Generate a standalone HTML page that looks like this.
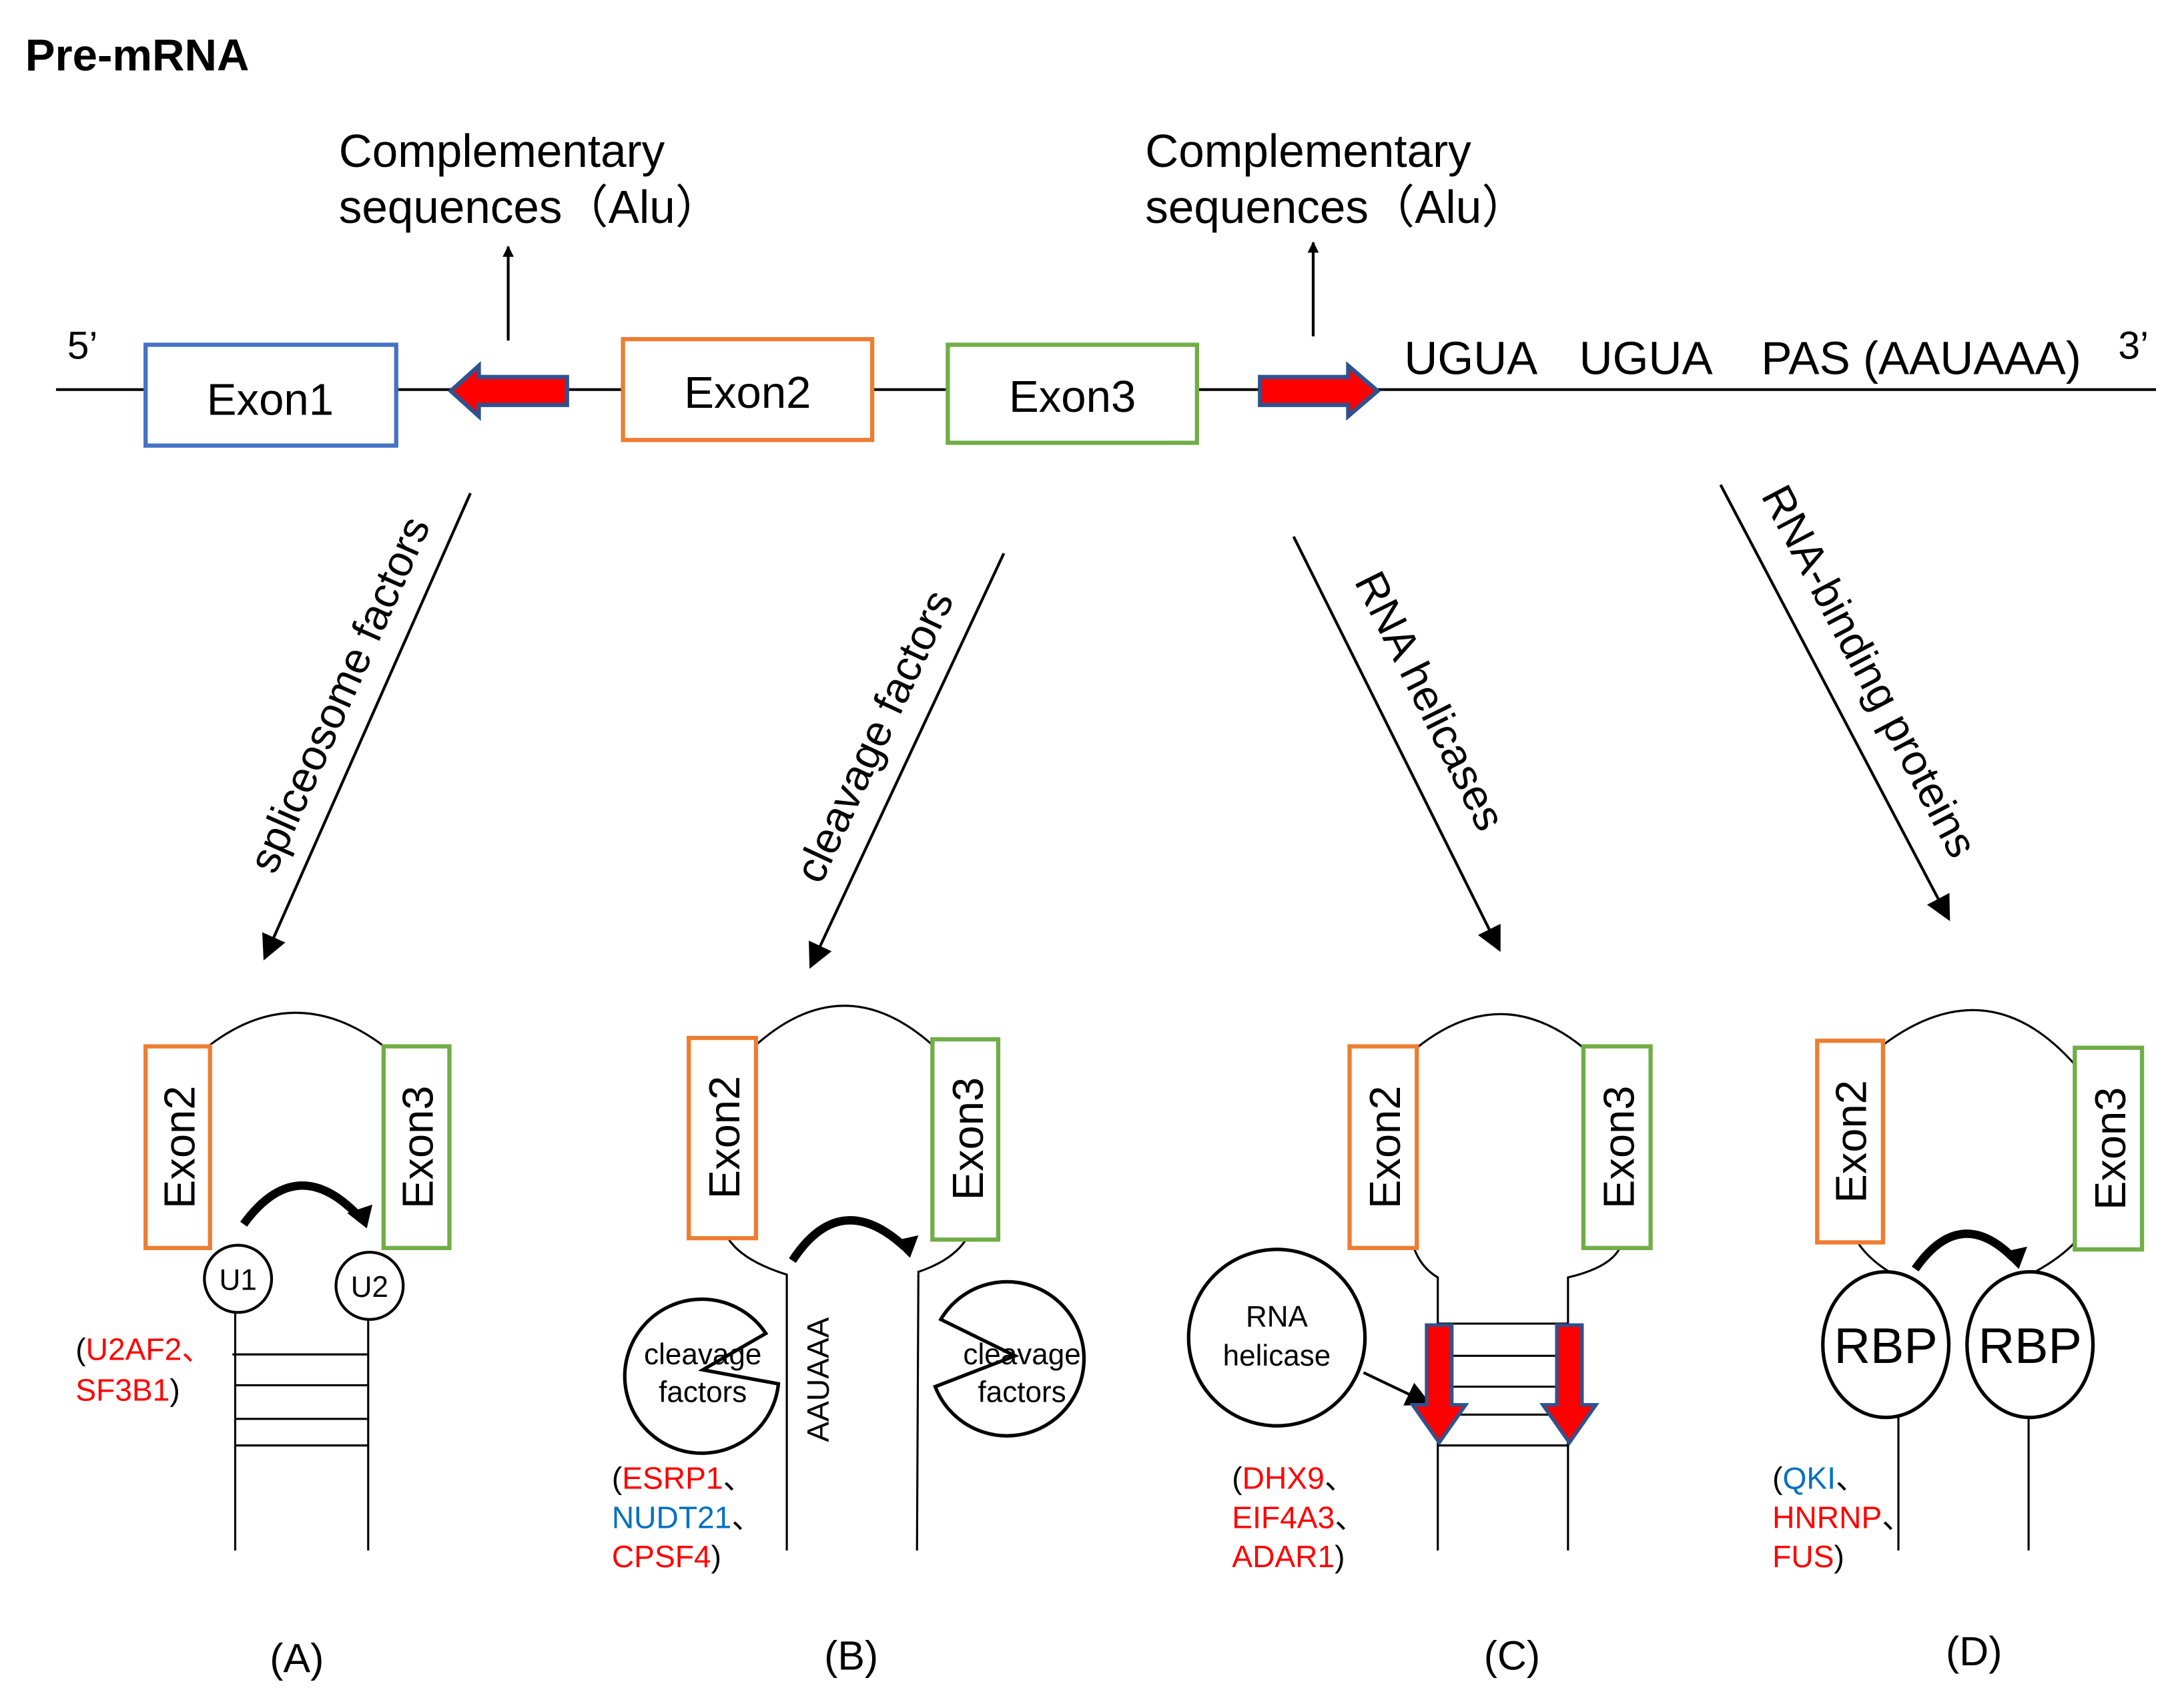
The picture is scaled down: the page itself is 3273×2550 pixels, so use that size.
<!DOCTYPE html>
<html><head><meta charset="utf-8"><style>html,body{margin:0;padding:0;background:#fff}svg{display:block}</style></head>
<body>
<svg width="3273" height="2550" viewBox="0 0 1560 1215" xmlns="http://www.w3.org/2000/svg" font-family="Liberation Sans, Noto Sans CJK SC, sans-serif">
<defs>
<marker id="ah" viewBox="0 0 10 10" refX="9" refY="5" markerWidth="8" markerHeight="8" markerUnits="userSpaceOnUse" orient="auto"><path d="M0,0 L10,5 L0,10 z" fill="#000"/></marker>
<marker id="ah2" viewBox="0 0 10 10" refX="9" refY="5" markerWidth="20" markerHeight="18" markerUnits="userSpaceOnUse" orient="auto"><path d="M0,0 L10,5 L0,10 z" fill="#000"/></marker>
<marker id="ah3" viewBox="0 0 10 10" refX="6" refY="5" markerWidth="9" markerHeight="9" orient="auto"><path d="M0,0 L10,5 L0,10 z" fill="#000"/></marker>
</defs>
<rect width="1560" height="1215" fill="#fff"/>
<text x="18" y="50" font-size="32" font-weight="bold">Pre-mRNA</text>

<line x1="40" y1="278" x2="1540" y2="278" stroke="#000" stroke-width="2"/>
<rect x="104" y="246" width="179" height="72" fill="#fff" stroke="#4472c4" stroke-width="3"/>
<text x="193" y="296" font-size="32" text-anchor="middle">Exon1</text>
<rect x="445" y="242" width="178" height="72" fill="#fff" stroke="#ed7d31" stroke-width="3"/>
<text x="534" y="291" font-size="32" text-anchor="middle">Exon2</text>
<rect x="677" y="246" width="178" height="70" fill="#fff" stroke="#70ad47" stroke-width="3"/>
<text x="766" y="294" font-size="32" text-anchor="middle">Exon3</text>
<text x="48" y="256" font-size="28">5’</text>
<text x="1513" y="256" font-size="28">3’</text>
<text x="1003" y="267" font-size="33">UGUA</text>
<text x="1128" y="267" font-size="33">UGUA</text>
<text x="1258" y="267" font-size="33">PAS (AAUAAA)</text>
<path d="M405,269 L342,269 L342,261 L322,279 L342,297 L342,289 L405,289 z" fill="#f00" stroke="#2f528f" stroke-width="3"/>
<path d="M900,269 L963,269 L963,261 L984,279 L963,297 L963,289 L900,289 z" fill="#f00" stroke="#2f528f" stroke-width="3"/>
<line x1="363" y1="243" x2="363" y2="176" stroke="#000" stroke-width="2" marker-end="url(#ah)"/>
<line x1="938" y1="240" x2="938" y2="173" stroke="#000" stroke-width="2" marker-end="url(#ah)"/>
<text x="242" y="119" font-size="33">Complementary</text>
<text x="242" y="159" font-size="33">sequences（Alu）</text>
<text x="818" y="119" font-size="33">Complementary</text>
<text x="818" y="159" font-size="33">sequences（Alu）</text>

<line x1="336" y1="352" x2="189" y2="684" stroke="#000" stroke-width="2" marker-end="url(#ah2)"/>
<line x1="717" y1="395" x2="579" y2="690" stroke="#000" stroke-width="2" marker-end="url(#ah2)"/>
<line x1="924" y1="383" x2="1071" y2="678" stroke="#000" stroke-width="2" marker-end="url(#ah2)"/>
<line x1="1229" y1="346" x2="1392" y2="656" stroke="#000" stroke-width="2" marker-end="url(#ah2)"/>
<text font-size="31" text-anchor="middle" transform="translate(252,500) rotate(-66)">spliceosome factors</text>
<text font-size="31" text-anchor="middle" transform="translate(634,530) rotate(-65)">cleavage factors</text>
<text font-size="31" text-anchor="middle" transform="translate(1012,505) rotate(63.5)">RNA helicases</text>
<text font-size="31" text-anchor="middle" transform="translate(1326,484) rotate(62.3)">RNA-binding proteins</text>

<g fill="none" stroke="#000" stroke-width="1.5">
<path d="M150,746 Q211,700 273,746"/>
<line x1="168" y1="935" x2="168" y2="1107"/>
<line x1="263" y1="940" x2="263" y2="1107"/>
<line x1="166" y1="967" x2="263" y2="967"/>
<line x1="168" y1="989" x2="263" y2="989"/>
<line x1="168" y1="1013" x2="263" y2="1013"/>
<line x1="168" y1="1032" x2="263" y2="1032"/>
<path d="M540,746 Q603,690 666,746"/>
<path d="M520,884 Q530,900 562,910 L562,1107"/>
<path d="M690,885 Q680,900 656,908 L655,1107"/>
<path d="M1012,748 Q1072,700 1131,748"/>
<path d="M1010,891 Q1015,905 1027,912 L1027,1107"/>
<path d="M1157,891 Q1150,905 1120,912 L1120,1107"/>
<line x1="1027" y1="945" x2="1120" y2="945"/>
<line x1="1027" y1="968" x2="1120" y2="968"/>
<line x1="1027" y1="990" x2="1120" y2="990"/>
<line x1="1027" y1="1010" x2="1120" y2="1010"/>
<line x1="1027" y1="1032" x2="1120" y2="1032"/>
<path d="M1345,746 Q1420,690 1482,760"/>
<path d="M1327,887 Q1335,900 1356,912"/>
<path d="M1482,887 Q1470,900 1446,912"/>
<line x1="1356" y1="1010" x2="1356" y2="1107"/>
<line x1="1449" y1="1010" x2="1449" y2="1107"/>
</g>

<rect x="104" y="747" width="46" height="144" fill="#fff" stroke="#ed7d31" stroke-width="3"/>
<rect x="274" y="747" width="47" height="144" fill="#fff" stroke="#70ad47" stroke-width="3"/>
<text font-size="31" text-anchor="middle" transform="translate(139,819) rotate(-90)">Exon2</text>
<text font-size="31" text-anchor="middle" transform="translate(309,819) rotate(-90)">Exon3</text>
<circle cx="170" cy="913" r="24" fill="#fff" stroke="#000" stroke-width="2"/>
<circle cx="264" cy="918" r="24" fill="#fff" stroke="#000" stroke-width="2"/>
<text x="170" y="921" font-size="21" text-anchor="middle">U1</text>
<text x="264" y="926" font-size="21" text-anchor="middle">U2</text>
<path d="M174,874 Q212,822 256,868" fill="none" stroke="#000" stroke-width="6"/>
<path d="M248,866 L266,860 L262,877 z" fill="#000"/>
<text x="54" y="971" font-size="22"><tspan>(</tspan><tspan fill="#f00">U2AF2、</tspan></text>
<text x="54" y="1000" font-size="22"><tspan fill="#f00">SF3B1</tspan><tspan>)</tspan></text>

<rect x="492" y="741" width="48" height="143" fill="#fff" stroke="#ed7d31" stroke-width="3"/>
<rect x="666" y="742" width="47" height="143" fill="#fff" stroke="#70ad47" stroke-width="3"/>
<text font-size="31" text-anchor="middle" transform="translate(528,812) rotate(-90)">Exon2</text>
<text font-size="31" text-anchor="middle" transform="translate(702,813) rotate(-90)">Exon3</text>
<path d="M566,900 Q600,848 646,890" fill="none" stroke="#000" stroke-width="6"/>
<path d="M638,886 L656,882 L650,898 z" fill="#000"/>
<path d="M502,978 L547,952 A55,55 0 1,0 556,988 z" fill="#fff" stroke="#000" stroke-width="2.5"/>
<path d="M725,968 L672,942 A55,55 0 1,1 668,990 z" fill="#fff" stroke="#000" stroke-width="2.5"/>
<text x="502" y="974" font-size="21" text-anchor="middle">cleavage</text>
<text x="502" y="1001" font-size="21" text-anchor="middle">factors</text>
<text x="730" y="974" font-size="21" text-anchor="middle">cleavage</text>
<text x="730" y="1001" font-size="21" text-anchor="middle">factors</text>
<text font-size="22" text-anchor="middle" transform="translate(592,985) rotate(-90)">AAUAAA</text>
<text x="437" y="1063" font-size="22"><tspan>(</tspan><tspan fill="#f00">ESRP1</tspan><tspan>、</tspan></text>
<text x="437" y="1091" font-size="22"><tspan fill="#0070c0">NUDT21</tspan><tspan>、</tspan></text>
<text x="437" y="1119" font-size="22"><tspan fill="#f00">CPSF4</tspan><tspan>)</tspan></text>

<rect x="964" y="747" width="48" height="144" fill="#fff" stroke="#ed7d31" stroke-width="3"/>
<rect x="1131" y="747" width="48" height="144" fill="#fff" stroke="#70ad47" stroke-width="3"/>
<text font-size="31" text-anchor="middle" transform="translate(1000,819) rotate(-90)">Exon2</text>
<text font-size="31" text-anchor="middle" transform="translate(1167,819) rotate(-90)">Exon3</text>
<ellipse cx="912" cy="955" rx="63" ry="63" fill="#fff" stroke="#000" stroke-width="2.5"/>
<text x="912" y="947" font-size="21" text-anchor="middle">RNA</text>
<text x="912" y="975" font-size="21" text-anchor="middle">helicase</text>
<line x1="974" y1="980" x2="1016" y2="1000" stroke="#000" stroke-width="2" marker-end="url(#ah3)"/>
<path d="M1019,946 L1037,946 L1037,1003 L1047,1003 L1028,1030 L1009,1003 L1019,1003 z" fill="#f00" stroke="#2f528f" stroke-width="2.5"/>
<path d="M1112,946 L1130,946 L1130,1003 L1140,1003 L1121,1030 L1102,1003 L1112,1003 z" fill="#f00" stroke="#2f528f" stroke-width="2.5"/>
<text x="880" y="1063" font-size="22"><tspan>(</tspan><tspan fill="#f00">DHX9</tspan><tspan>、</tspan></text>
<text x="880" y="1091" font-size="22"><tspan fill="#f00">EIF4A3</tspan><tspan>、</tspan></text>
<text x="880" y="1119" font-size="22"><tspan fill="#f00">ADAR1</tspan><tspan>)</tspan></text>

<rect x="1298" y="743" width="47" height="144" fill="#fff" stroke="#ed7d31" stroke-width="3"/>
<rect x="1482" y="748" width="48" height="144" fill="#fff" stroke="#70ad47" stroke-width="3"/>
<text font-size="31" text-anchor="middle" transform="translate(1333,815) rotate(-90)">Exon2</text>
<text font-size="31" text-anchor="middle" transform="translate(1518,820) rotate(-90)">Exon3</text>
<path d="M1368,906 Q1400,860 1438,898" fill="none" stroke="#000" stroke-width="6"/>
<path d="M1430,894 L1448,890 L1442,906 z" fill="#000"/>
<ellipse cx="1347" cy="960" rx="45" ry="52" fill="#fff" stroke="#000" stroke-width="2.5"/>
<ellipse cx="1450" cy="960" rx="45" ry="52" fill="#fff" stroke="#000" stroke-width="2.5"/>
<text x="1347" y="973" font-size="36" text-anchor="middle">RBP</text>
<text x="1450" y="973" font-size="36" text-anchor="middle">RBP</text>
<text x="1266" y="1063" font-size="22"><tspan>(</tspan><tspan fill="#0070c0">QKI</tspan><tspan>、</tspan></text>
<text x="1266" y="1091" font-size="22"><tspan fill="#f00">HNRNP</tspan><tspan>、</tspan></text>
<text x="1266" y="1119" font-size="22"><tspan fill="#f00">FUS</tspan><tspan>)</tspan></text>

<text x="212" y="1194" font-size="29" text-anchor="middle">(A)</text>
<text x="608" y="1192" font-size="29" text-anchor="middle">(B)</text>
<text x="1080" y="1192" font-size="29" text-anchor="middle">(C)</text>
<text x="1410" y="1189" font-size="29" text-anchor="middle">(D)</text>
</svg>
</body></html>
